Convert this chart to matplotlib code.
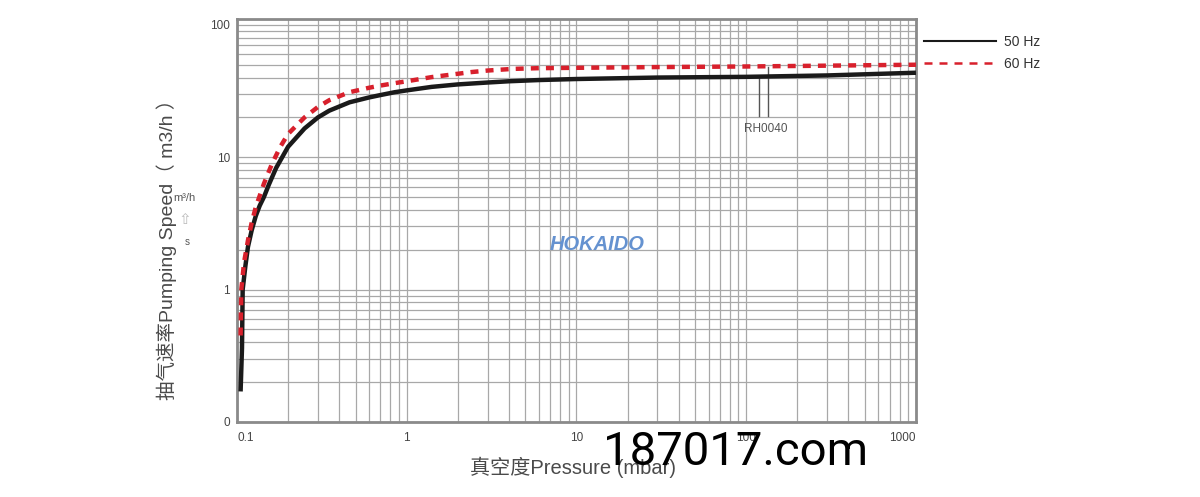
import matplotlib.pyplot as plt
from matplotlib.lines import Line2D

plt.rcParams['font.family'] = ['Liberation Sans', 'Noto Sans CJK SC', 'DejaVu Sans']

# 50 Hz curve (pressure mbar, speed m3/h)
pressure_50 = [0.105, 0.107, 0.108, 0.112, 0.116, 0.122, 0.129, 0.136, 0.144, 0.154, 0.17,
               0.2, 0.25, 0.3, 0.35, 0.46, 0.6, 0.7, 0.85, 1.0, 1.4, 2.0, 3.0, 4.0, 6.0,
               10, 30, 100, 300, 1000]
speed_50 = [0.17, 0.36, 1.0, 1.5, 2.1, 2.8, 3.6, 4.3, 5.0, 6.2, 8.3,
            12.0, 16.5, 20.0, 22.5, 26.0, 28.3, 29.5, 31.0, 32.0, 34.0, 35.5, 36.7, 37.5, 38.3,
            39.0, 40.0, 40.5, 41.5, 43.5]

# 60 Hz curve
pressure_60 = [0.105, 0.106, 0.11, 0.116, 0.122, 0.129, 0.144, 0.16, 0.18, 0.2, 0.25, 0.3,
               0.35, 0.46, 0.6, 0.7, 0.85, 1.0, 1.4, 1.8, 2.4, 3.0, 4.2, 6.0, 10, 30, 100,
               300, 1000]
speed_60 = [0.45, 1.0, 1.6, 2.35, 3.2, 4.2, 6.3, 8.8, 12.0, 15.0, 20.0, 24.0,
            27.0, 31.0, 33.5, 34.8, 36.3, 37.5, 40.3, 42.0, 44.0, 45.2, 46.5, 47.1, 47.4, 48.0, 48.5,
            49.2, 50.0]

x_ticks = [0.1, 1, 10, 100, 1000]
x_tick_labels = ['0.1', '1', '10', '100', '1000']
y_ticks = [0.1, 1, 10, 100]
y_tick_labels = ['0', '1', '10', '100']

model_name = 'RH0040'
model_x = [119, 134]
model_top = [40.5, 48.0]
model_bottom = 20.6

fig = plt.figure(figsize=(12, 4.97), dpi=100)
ax = fig.add_axes([0.1975, 0.151, 0.5658, 0.811])
ax.set_xscale('log')
ax.set_yscale('log')
ax.set_xlim(0.1, 1000)
ax.set_ylim(0.1, 111)

ax.grid(True, which='both', color='#a8a8a8', linewidth=0.9)
ax.set_axisbelow(True)
for s in ax.spines.values():
    s.set_color('#8a8a8a')
    s.set_linewidth(2)

ax.set_xticks(x_ticks)
ax.set_xticklabels(x_tick_labels)
ax.set_yticks(y_ticks)
ax.set_yticklabels(y_tick_labels)
ax.tick_params(which='both', length=0, labelsize=8.5, labelcolor='#444444')
ax.tick_params(axis='x', pad=7)
ax.tick_params(axis='y', pad=5)
ax.get_xticklabels()[-1].set_ha('right')
ax.get_xticklabels()[0].set_ha('left')

ax.plot(pressure_50, speed_50, '-', color='#1a1a1a', linewidth=3.2,
        solid_capstyle='butt', solid_joinstyle='round', zorder=3)
ax.plot(pressure_60, speed_60, color='#d8202c', linewidth=3.2,
        dashes=(1.8, 1.6), zorder=4)

# model marker lines and label
for xm, yt in zip(model_x, model_top):
    ax.plot([xm, xm], [yt, model_bottom], color='#555555', linewidth=1.0, zorder=2)
ax.text(131, 16.4, model_name, fontsize=8.5, color='#555555', ha='center', va='center')

ax.set_xlabel('真空度Pressure (mbar)', fontsize=14.5, color='#4a4a4a')
ax.xaxis.set_label_coords(0.495, -0.085)
ax.set_ylabel('抽气速率Pumping Speed（ m3/h ）', fontsize=14, color='#4a4a4a')
ax.yaxis.set_label_coords(-0.089, 0.44)

# small unit marks near the y label
fig.text(0.144, 1 - 198 / 497, 'm³/h', fontsize=8, color='#555555', ha='left', va='center')
fig.text(0.154, 1 - 219 / 497, '⇧', fontsize=11, color='#bbbbbb', ha='center', va='center',
         family='DejaVu Sans')
fig.text(0.156, 1 - 242 / 497, 's', fontsize=7, color='#555555', ha='center', va='center')

# logo
fig.text(0.4975, 1 - 244 / 497, 'HOKAIDO', fontsize=14.5, color='#6592d0', style='italic',
         weight='bold', ha='center', va='center')

handles = [Line2D([], [], color='#1a1a1a', linewidth=1.5),
           Line2D([], [], color='#d8202c', linewidth=1.8, dashes=(3.2, 2.8))]
ax.legend(handles, ['50 Hz', '60 Hz'], loc='upper left',
          bbox_to_anchor=(924 / 1200, 1 - 35 / 497), bbox_transform=fig.transFigure,
          frameon=False, fontsize=10, handlelength=5.2, handletextpad=0.55,
          labelspacing=0.6, borderpad=0, borderaxespad=0, labelcolor='#333333')

fig.text(0.613, 1 - 452 / 497, '187017.com', fontsize=34, family='Roboto',
         color='black', ha='center', va='center')

fig.savefig('out.png', dpi=100)
